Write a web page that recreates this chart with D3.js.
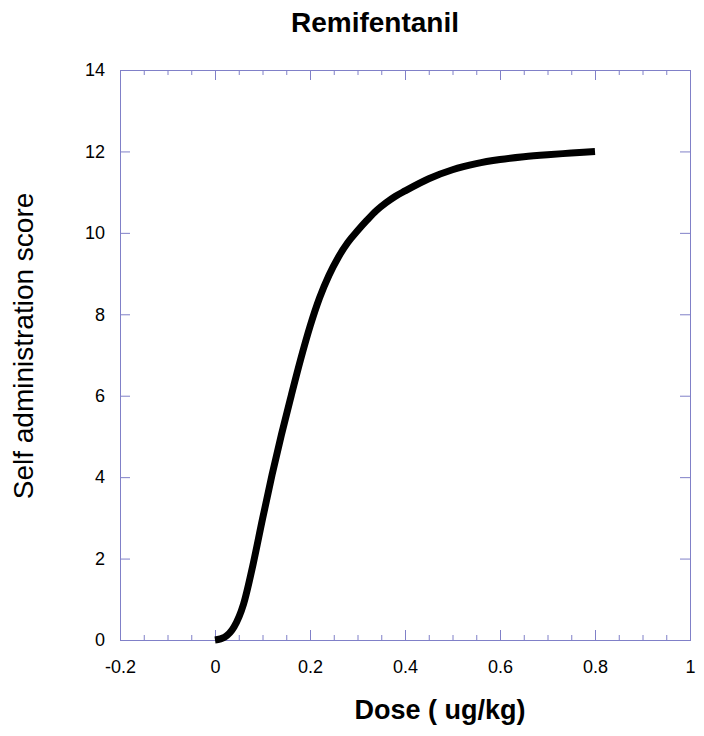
<!DOCTYPE html>
<html>
<head>
<meta charset="utf-8">
<script src="https://cdn.jsdelivr.net/npm/d3@7"></script>
<style>
  html, body { margin: 0; padding: 0; background: #fff; }
  svg { display: block; }
  text { font-family: "Liberation Sans", Arial, sans-serif; }
</style>
</head>
<body>
<svg id="chart" width="704" height="736"></svg>
<script>
const title = "Remifentanil";
const xLabel = "Dose ( ug/kg)";
const yLabel = "Self administration score";

const doses = [0, 0.02, 0.04, 0.06, 0.08, 0.10, 0.12, 0.14, 0.16, 0.18, 0.20, 0.22, 0.24, 0.26, 0.28, 0.30, 0.32, 0.34, 0.36, 0.38, 0.40, 0.45, 0.50, 0.55, 0.60, 0.65, 0.70, 0.75, 0.80];
const scores = [0, 0.07, 0.32, 0.88, 1.85, 2.97, 4.05, 5.05, 5.98, 6.88, 7.70, 8.40, 8.96, 9.41, 9.77, 10.05, 10.31, 10.55, 10.74, 10.90, 11.03, 11.33, 11.55, 11.70, 11.80, 11.87, 11.92, 11.96, 12.00];

const xTicks = [-0.2, 0, 0.2, 0.4, 0.6, 0.8, 1];
const xTickLabels = ["-0.2", "0", "0.2", "0.4", "0.6", "0.8", "1"];
const xMinorTicks = [-0.2, -0.15, -0.1, -0.05, 0, 0.05, 0.1, 0.15, 0.2, 0.25, 0.3, 0.35, 0.4, 0.45, 0.5, 0.55, 0.6, 0.65, 0.7, 0.75, 0.8, 0.85, 0.9, 0.95, 1];
const yTicks = [0, 2, 4, 6, 8, 10, 12, 14];
const yTickLabels = ["0", "2", "4", "6", "8", "10", "12", "14"];

const frameColor = "#8080c8";
const L = 120, R = 690, T = 70, B = 640;

const svg = d3.select("#chart");
const x = d3.scaleLinear().domain([-0.2, 1]).range([L, R]);
const y = d3.scaleLinear().domain([0, 14]).range([B, T]);

function styleAxis(g) {
  g.attr("font-size", null).attr("font-family", null);
  g.select(".domain").remove();
  g.selectAll(".tick line").attr("stroke", frameColor).attr("stroke-width", 1);
  g.selectAll(".tick text").attr("fill", "#000")
    .style("font-family", '"Liberation Sans", Arial, sans-serif')
    .style("font-size", "18px");
}

// bottom minor + major
svg.append("g").attr("transform", `translate(0,${B})`)
  .call(d3.axisBottom(x).tickValues(xMinorTicks).tickSizeInner(-5).tickSizeOuter(0).tickFormat(""))
  .call(styleAxis);
svg.append("g").attr("transform", `translate(0,${B})`)
  .call(d3.axisBottom(x).tickValues(xTicks).tickSizeInner(-10).tickSizeOuter(0).tickPadding(20)
    .tickFormat((d, i) => xTickLabels[i]))
  .call(styleAxis);
// top minor + major
svg.append("g").attr("transform", `translate(0,${T})`)
  .call(d3.axisTop(x).tickValues(xMinorTicks).tickSizeInner(-5).tickSizeOuter(0).tickFormat(""))
  .call(styleAxis);
svg.append("g").attr("transform", `translate(0,${T})`)
  .call(d3.axisTop(x).tickValues(xTicks).tickSizeInner(-10).tickSizeOuter(0).tickFormat(""))
  .call(styleAxis);
// left
svg.append("g").attr("transform", `translate(${L},0)`)
  .call(d3.axisLeft(y).tickValues(yTicks).tickSizeInner(-10).tickSizeOuter(0).tickPadding(15)
    .tickFormat((d, i) => yTickLabels[i]))
  .call(styleAxis);
// right
svg.append("g").attr("transform", `translate(${R},0)`)
  .call(d3.axisRight(y).tickValues(yTicks).tickSizeInner(-10).tickSizeOuter(0).tickFormat(""))
  .call(styleAxis);

// frame
svg.append("rect")
  .attr("x", L + 0.5).attr("y", T + 0.5)
  .attr("width", R - L).attr("height", B - T)
  .attr("fill", "none").attr("stroke", frameColor).attr("stroke-width", 1);

// curve
const data = doses.map((d, i) => ({ d, s: scores[i] }));
const line = d3.line().x(p => x(p.d)).y(p => y(p.s)).curve(d3.curveMonotoneX);
svg.append("path")
  .datum(data)
  .attr("d", line)
  .attr("fill", "none")
  .attr("stroke", "#000")
  .attr("stroke-width", 7)
  .attr("stroke-linecap", "butt")
  .attr("stroke-linejoin", "round");

// title
svg.append("text")
  .attr("x", 375).attr("y", 32)
  .attr("text-anchor", "middle")
  .style("font-size", "28px").style("font-weight", "bold")
  .text(title);

// x label
svg.append("text")
  .attr("x", 440).attr("y", 719)
  .attr("text-anchor", "middle")
  .style("font-size", "27px").style("font-weight", "bold")
  .text(xLabel);

// y label
svg.append("text")
  .attr("transform", "translate(33,346) rotate(-90)")
  .attr("text-anchor", "middle")
  .style("font-size", "28px")
  .text(yLabel);
</script>
</body>
</html>
